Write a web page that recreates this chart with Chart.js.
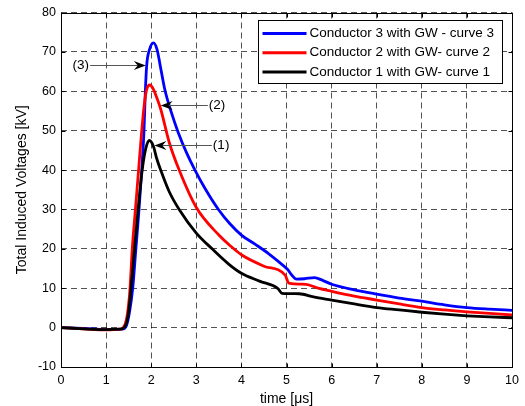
<!DOCTYPE html>
<html>
<head>
<meta charset="utf-8">
<script src="https://cdn.jsdelivr.net/npm/chart.js@4.4.0/dist/chart.umd.min.js"></script>
<style>
  html, body { margin: 0; padding: 0; background: #fff; }
  #wrap { width: 525px; height: 406px; }
</style>
</head>
<body>
<div id="wrap"><canvas id="induced" width="525" height="406"></canvas></div>
<script>
const FONT = "'Liberation Sans', Arial, sans-serif";

// axis ticks
const xTicks = [0, 1, 2, 3, 4, 5, 6, 7, 8, 9, 10];
const yTicks = [-10, 0, 10, 20, 30, 40, 50, 60, 70, 80];

// series labels (legend order)
const seriesNames = [
  'Conductor 3 with GW - curve 3',
  'Conductor 2 with GW- curve 2',
  'Conductor 1 with GW- curve 1'
];

// curve 3 (blue)
const t3 = [0, 0.5, 1.0, 1.35, 1.45, 1.52, 1.59, 1.66, 1.73, 1.79, 1.84, 1.87, 1.9, 1.96, 2.05, 2.13, 2.2, 2.3, 2.45, 2.6, 2.78, 2.97, 3.2, 3.49, 3.75, 4.0, 4.3, 4.6, 4.85, 5.02, 5.12, 5.22, 5.4, 5.62, 5.8, 6.0, 6.5, 7.0, 7.5, 8.0, 8.5, 9.0, 9.5, 10.0];
const v3 = [0, -0.2, -0.5, -0.4, 0.5, 4, 10, 20, 30, 40, 50, 60, 66.6, 70.5, 72.3, 70.6, 66.5, 60.5, 54.5, 49.5, 44.5, 40, 35.2, 30, 26.3, 23.5, 21.2, 18.8, 16.5, 14.8, 13.3, 12.3, 12.4, 12.7, 12, 11.0, 9.6, 8.5, 7.5, 6.7, 5.8, 5.1, 4.7, 4.4];

// curve 2 (red)
const t2 = [0, 0.5, 1.0, 1.3, 1.38, 1.45, 1.5, 1.53, 1.58, 1.65, 1.72, 1.79, 1.85, 1.9, 1.97, 2.05, 2.12, 2.21, 2.4, 2.62, 3.0, 3.5, 3.75, 4.0, 4.5, 4.97, 5.05, 5.43, 5.7, 6.0, 6.5, 7.0, 7.5, 8.0, 8.5, 9.0, 9.5, 10.0];
const v2 = [0, -0.3, -0.6, -0.4, 0, 2, 6, 10, 20, 30, 40, 50, 57, 60.5, 61.6, 60.5, 58.5, 55.5, 47, 40, 30.5, 23.5, 20.8, 18.5, 15.6, 13.3, 11.3, 11.0, 10.0, 9.2, 8.0, 7.0, 6.0, 5.1, 4.5, 4.0, 3.6, 3.2];

// curve 1 (black)
const t1 = [0, 0.5, 1.0, 1.3, 1.4, 1.47, 1.52, 1.56, 1.63, 1.71, 1.8, 1.88, 1.96, 2.05, 2.12, 2.21, 2.4, 2.62, 3.0, 3.35, 3.71, 4.0, 4.4, 4.81, 4.9, 5.28, 5.6, 6.0, 6.5, 7.0, 7.5, 8.0, 8.5, 9.0, 9.5, 10.0];
const v1 = [0, -0.3, -0.5, -0.4, 0, 2, 6, 11, 20, 30, 40, 45.5, 47.5, 46, 43, 40, 34.5, 30, 24, 20, 16.2, 13.8, 11.8, 9.9, 8.7, 8.6, 7.8, 7.0, 6.0, 5.1, 4.5, 3.9, 3.4, 3.0, 2.7, 2.5];

// peak annotations: label, text x, arrow tip x, level (data units)
const noteLabels = ['(3)', '(2)', '(1)'];
const noteTextX = [0.44, 3.46, 3.55];
const noteTipX = [1.88, 2.21, 2.07];
const noteY = [66.7, 56.6, 46.3];

const toPoints = (ts, vs) => ts.map((t, i) => ({ x: t, y: vs[i] }));

const framePlugin = {
  id: 'frame',
  afterDatasetsDraw(chart) {
    const { ctx, chartArea: a, scales: { x, y } } = chart;
    const L = Math.round(a.left) + 0.5, R = Math.round(a.right) + 0.5;
    const T = Math.round(a.top) + 0.5, B = Math.round(a.bottom) + 0.5;
    ctx.save();
    ctx.setLineDash([]);
    ctx.strokeStyle = '#000';
    ctx.lineWidth = 1;
    ctx.beginPath();
    xTicks.forEach(v => {
      const px = Math.round(x.getPixelForValue(v)) + 0.5;
      ctx.moveTo(px, B); ctx.lineTo(px, B - 4);
      ctx.moveTo(px, T); ctx.lineTo(px, T + 4);
    });
    yTicks.forEach(v => {
      const py = Math.round(y.getPixelForValue(v)) + 0.5;
      ctx.moveTo(L, py); ctx.lineTo(L + 4, py);
      ctx.moveTo(R, py); ctx.lineTo(R - 4, py);
    });
    ctx.stroke();
    ctx.strokeRect(L, T, R - L, B - T);

    // annotations with arrows
    ctx.font = '13.5px ' + FONT;
    ctx.textAlign = 'center';
    ctx.textBaseline = 'middle';
    noteLabels.forEach((lab, i) => {
      const tx = x.getPixelForValue(noteTextX[i]);
      const px = x.getPixelForValue(noteTipX[i]);
      const py = Math.round(y.getPixelForValue(noteY[i])) + 0.5;
      const half = ctx.measureText(lab).width / 2;
      const dir = px > tx ? 1 : -1;
      const start = tx + dir * (half + 1);
      ctx.fillStyle = '#000';
      ctx.fillText(lab, tx, py);
      ctx.strokeStyle = '#555';
      ctx.beginPath();
      ctx.moveTo(start, py);
      ctx.lineTo(px - dir * 6, py);
      ctx.stroke();
      ctx.fillStyle = '#000';
      ctx.beginPath();
      ctx.moveTo(px, py);
      ctx.lineTo(px - dir * 12, py - 4.5);
      ctx.lineTo(px - dir * 8, py);
      ctx.lineTo(px - dir * 12, py + 4.5);
      ctx.closePath();
      ctx.fill();
    });

    // legend box
    const bw = 244, bh = 63;
    const bx = Math.round(a.right - 10 - bw) + 0.5;
    const by = Math.round(a.top + 7) + 0.5;
    ctx.fillStyle = '#fff';
    ctx.fillRect(bx, by, bw, bh);
    ctx.strokeStyle = '#000';
    ctx.lineWidth = 1;
    ctx.strokeRect(bx, by, bw, bh);
    ctx.textAlign = 'left';
    chart.data.datasets.forEach((ds, i) => {
      const ry = by + 13 + i * 19.2;
      ctx.strokeStyle = ds.borderColor;
      ctx.lineWidth = 3;
      ctx.beginPath();
      ctx.moveTo(bx + 4, ry);
      ctx.lineTo(bx + 48, ry);
      ctx.stroke();
      ctx.fillStyle = '#000';
      ctx.fillText(ds.label, bx + 51, ry);
    });
    ctx.restore();
  }
};

const gridOpts = {
  color: 'rgba(0,0,0,0.68)',
  lineWidth: 1,
  drawTicks: false
};

const chart = new Chart(document.getElementById('induced'), {
  type: 'line',
  data: {
    datasets: [
      { label: seriesNames[0], data: toPoints(t3, v3), borderColor: '#0000ff', order: 3 },
      { label: seriesNames[1], data: toPoints(t2, v2), borderColor: '#ff0000', order: 2 },
      { label: seriesNames[2], data: toPoints(t1, v1), borderColor: '#000000', order: 1 }
    ]
  },
  options: {
    responsive: false,
    animation: false,
    devicePixelRatio: 1,
    layout: { padding: { top: 10, right: 9, left: 0, bottom: 0 } },
    elements: {
      point: { radius: 0 },
      line: { borderWidth: 2.8, cubicInterpolationMode: 'monotone', fill: false }
    },
    plugins: {
      legend: { display: false },
      tooltip: { enabled: false }
    },
    scales: {
      x: {
        type: 'linear',
        min: 0, max: 10,
        grid: gridOpts,
        border: { display: false, dash: [6, 4] },
        afterBuildTicks: s => { s.ticks = xTicks.map(v => ({ value: v })); },
        afterFit: s => { s.height = 39; },
        ticks: { color: '#000', padding: 6, maxRotation: 0, font: { family: FONT, size: 12.5 } },
        title: {
          display: true, text: 'time [\u03bcs]', color: '#000',
          font: { family: FONT, size: 14, lineHeight: 1 }, padding: { top: 0, bottom: 0 }
        }
      },
      y: {
        type: 'linear',
        min: -10, max: 80,
        grid: gridOpts,
        border: { display: false, dash: [6, 4] },
        afterBuildTicks: s => { s.ticks = yTicks.map(v => ({ value: v })); },
        afterFit: s => { s.width = 61; },
        ticks: { color: '#000', padding: 5, font: { family: FONT, size: 12.5 } },
        title: {
          display: true, text: 'Total Induced Voltages [kV]', color: '#000',
          font: { family: FONT, size: 14, lineHeight: 1 }, padding: { top: 15.5, bottom: 0 }
        }
      }
    }
  },
  plugins: [framePlugin]
});
</script>
</body>
</html>
